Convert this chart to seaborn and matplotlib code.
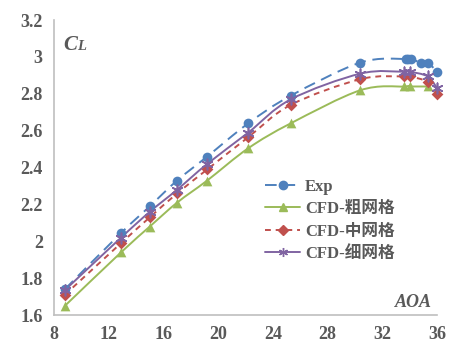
import numpy as np
import matplotlib
matplotlib.use("Agg")
import matplotlib.pyplot as plt
from matplotlib.lines import Line2D
from matplotlib.path import Path
from matplotlib.patches import PathPatch
import seaborn as sns

# Angle of attack (deg) and lift coefficient
aoa_exp = [8.8, 12.9, 15.0, 17.0, 19.2, 22.2, 25.3, 30.4, 33.7, 33.9, 34.1, 34.8, 35.3, 36.0]
cl_exp = [1.74, 2.045, 2.19, 2.33, 2.46, 2.64, 2.79, 2.97, 2.99, 2.99, 2.99, 2.97, 2.97, 2.92]

aoa_coarse = [8.8, 12.9, 15.0, 17.0, 19.2, 22.2, 25.3, 30.4, 33.6, 34.0, 35.3]
cl_coarse = [1.65, 1.94, 2.08, 2.21, 2.33, 2.505, 2.64, 2.82, 2.84, 2.84, 2.84]

aoa_medium = [8.8, 12.9, 15.0, 17.0, 19.2, 22.2, 25.3, 30.4, 33.6, 34.0, 35.3, 36.0]
cl_medium = [1.71, 1.99, 2.13, 2.26, 2.39, 2.565, 2.74, 2.88, 2.895, 2.895, 2.865, 2.80]

aoa_fine = [8.8, 12.9, 15.0, 17.0, 19.2, 22.2, 25.3, 30.4, 33.6, 34.0, 35.3, 36.0]
cl_fine = [1.735, 2.02, 2.16, 2.28, 2.42, 2.59, 2.77, 2.91, 2.92, 2.92, 2.895, 2.83]

labels = ["Exp", "CFD-粗网格", "CFD-中网格", "CFD-细网格"]
x_ticks = [8, 12, 16, 20, 24, 28, 32, 36]
y_ticks = [1.6, 1.8, 2.0, 2.2, 2.4, 2.6, 2.8, 3.0, 3.2]

sns.set_theme(style="white")
serif = ["Liberation Serif", "Noto Sans CJK SC"]
plt.rcParams["font.family"] = serif
gray = "#595959"

fig = plt.figure(figsize=(4.53, 3.47), dpi=100)
ax = fig.add_axes([0.119, 0.092, 0.846, 0.850])


def smooth_path(xs, ys):
    """Bezier path through the points (Catmull-Rom style tangents)."""
    pts = np.column_stack([xs, ys]).astype(float)
    n = len(pts)
    verts = [pts[0]]
    codes = [Path.MOVETO]
    for i in range(n - 1):
        p0 = pts[i - 1] if i > 0 else pts[i]
        p1 = pts[i]
        p2 = pts[i + 1]
        p3 = pts[i + 2] if i + 2 < n else pts[i + 1]
        c1 = p1 + (p2 - p0) / 6.0
        c2 = p2 - (p3 - p1) / 6.0
        verts += [c1, c2, p2]
        codes += [Path.CURVE4] * 3
    return Path(verts, codes)


series = [
    (aoa_exp, cl_exp, "#4F81BD", (0, (6, 3.5)), "o", 7),
    (aoa_coarse, cl_coarse, "#9BBB59", "-", "^", 7),
    (aoa_medium, cl_medium, "#C0504D", (0, (3, 2.5)), "D", 6),
    (aoa_fine, cl_fine, "#8064A2", "-", (6, 2, 0), 7.5),
]

handles = []
for (xs, ys, color, ls, mk, ms), lab in zip(series, labels):
    patch = PathPatch(smooth_path(xs, ys), facecolor="none", edgecolor=color,
                      linewidth=1.4, linestyle=ls, zorder=2, clip_on=False)
    ax.add_patch(patch)
    sns.scatterplot(x=xs, y=ys, ax=ax, marker=mk, s=ms ** 2, color=color,
                    edgecolor=color, linewidth=1.2 if mk == (6, 2, 0) else 0,
                    zorder=3, legend=False, clip_on=False)
    handles.append(Line2D([], [], color=color, linestyle=ls, linewidth=1.4,
                          marker=mk, markersize=ms - 1, markeredgecolor=color,
                          markerfacecolor=color, label=lab))

ax.set_xlim(8, 36)
ax.set_ylim(1.6, 3.2)
ax.set_xticks(x_ticks)
ax.set_yticks(y_ticks)
ax.set_xticklabels([f"{v:g}" for v in x_ticks])
ax.set_yticklabels([f"{v:g}" for v in y_ticks])
ax.tick_params(length=0, labelsize=13, colors=gray, pad=8)
for lab in ax.get_xticklabels() + ax.get_yticklabels():
    lab.set_fontweight("bold")
    lab.set_family(serif)

for side in ["top", "right"]:
    ax.spines[side].set_visible(False)
for side in ["left", "bottom"]:
    ax.spines[side].set_color("#BFBFBF")
    ax.spines[side].set_linewidth(1.2)

# Axis titles drawn inside the plotting area
ax.annotate("C", xy=(0, 1), xycoords="axes fraction", xytext=(9, -30),
            textcoords="offset pixels", fontsize=15, fontweight="bold",
            fontstyle="italic", color=gray, va="baseline", ha="left")
ax.annotate("L", xy=(0, 1), xycoords="axes fraction", xytext=(23, -30),
            textcoords="offset pixels", fontsize=10.5, fontweight="bold",
            fontstyle="italic", color=gray, va="baseline", ha="left")
ax.annotate("AOA", xy=(1, 0), xycoords="axes fraction", xytext=(-5, 8),
            textcoords="offset pixels", fontsize=13, fontweight="bold",
            fontstyle="italic", color=gray, va="baseline", ha="right")

leg = ax.legend(handles=handles, loc="upper left",
                bbox_to_anchor=(265 / 453, 1 - 179 / 347),
                bbox_transform=fig.transFigure, frameon=False,
                prop={"family": serif, "weight": "bold", "size": 12},
                handlelength=2.1, handletextpad=0.3, labelspacing=0.38,
                borderpad=0, borderaxespad=0)
for t in leg.get_texts():
    t.set_color(gray)

fig.savefig("out.png", dpi=100, facecolor="white")
